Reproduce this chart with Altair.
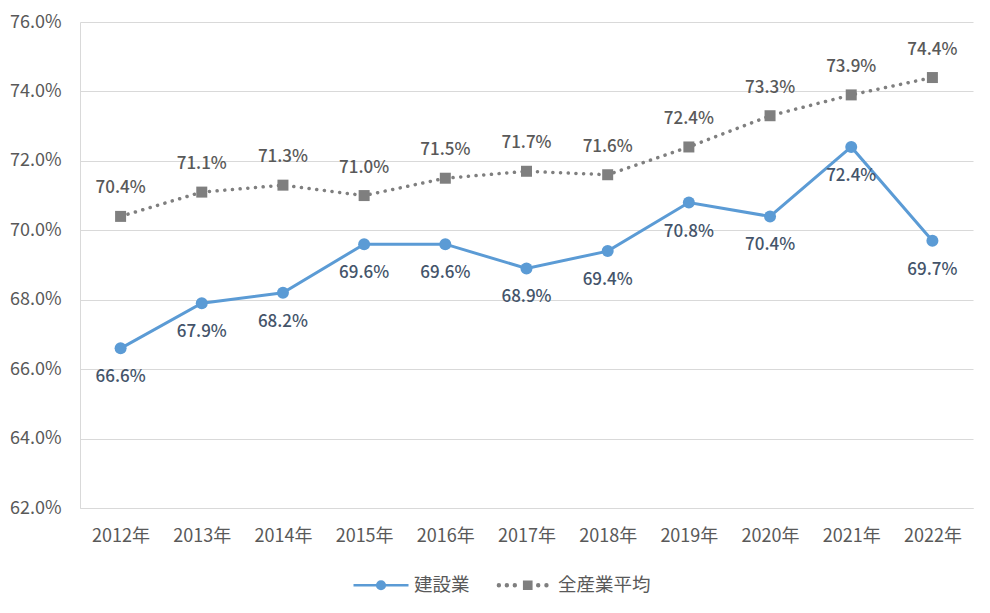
import altair as alt
import pandas as pd

years = ["2012年", "2013年", "2014年", "2015年", "2016年", "2017年",
         "2018年", "2019年", "2020年", "2021年", "2022年"]
construction = [66.6, 67.9, 68.2, 69.6, 69.6, 68.9, 69.4, 70.8, 70.4, 72.4, 69.7]
all_industry = [70.4, 71.1, 71.3, 71.0, 71.5, 71.7, 71.6, 72.4, 73.3, 73.9, 74.4]
series_names = ["建設業", "全産業平均"]
y_ticks = [62, 64, 66, 68, 70, 72, 74, 76]

BLUE = "#5B9BD5"
GRAY = "#7F7F7F"
FONT = "Noto Sans CJK JP"

df = pd.DataFrame({
    "year": years * 2,
    "value": construction + all_industry,
    "series": [series_names[0]] * len(years) + [series_names[1]] * len(years),
})
df["label"] = df["value"].map(lambda v: f"{v:.1f}%")

base = alt.Chart(df)
x_enc = alt.X("year:N", sort=years, title=None,
              scale=alt.Scale(type="point", padding=0.5),
              axis=alt.Axis(labelAngle=0, domain=True, domainColor="#d9d9d9",
                            ticks=False, grid=False, labelPadding=19,
                            labelFontSize=18, labelColor="#595959", labelFont=FONT))
y_enc = alt.Y("value:Q", title=None,
              scale=alt.Scale(domain=[62, 76], nice=False, zero=False),
              axis=alt.Axis(values=y_ticks, labelExpr="format(datum.value, '.1f') + '%'",
                            domain=True, domainColor="#d9d9d9", ticks=False,
                            grid=True, gridColor="#d9d9d9", labelPadding=19,
                            labelFontSize=18, labelColor="#595959", labelFont=FONT))

is_c = alt.datum.series == series_names[0]
is_a = alt.datum.series == series_names[1]

gray_line = base.transform_filter(is_a).mark_line(
    color=GRAY, strokeWidth=3.5, strokeDash=[0.1, 7.6], strokeCap="round"
).encode(x=x_enc, y=y_enc)
blue_line = base.transform_filter(is_c).mark_line(
    color=BLUE, strokeWidth=3
).encode(x=x_enc, y=y_enc)
gray_pts = base.transform_filter(is_a).mark_point(
    shape="square", filled=True, color=GRAY, size=121, opacity=1
).encode(x=x_enc, y=y_enc)
blue_pts = base.transform_filter(is_c).mark_point(
    shape="circle", filled=True, color=BLUE, size=144, opacity=1
).encode(x=x_enc, y=y_enc)
gray_txt = base.transform_filter(is_a).mark_text(
    dy=-28, font=FONT, fontSize=17, fontWeight=500, color="#595959", baseline="middle"
).encode(x=x_enc, y=y_enc, text="label:N")
blue_txt = base.transform_filter(is_c).mark_text(
    dy=29, font=FONT, fontSize=17, fontWeight=500, color="#44546A", baseline="middle"
).encode(x=x_enc, y=y_enc, text="label:N")

blue_sym = ("M-1,0H1M-0.14,0a0.14,0.14 0 1,0 0.28,0a0.14,0.14 0 1,0 -0.28,0")
def dot(cx, r=0.035):
    return f"M{cx - r:.3f},0a{r},{r} 0 1,0 {2*r},0a{r},{r} 0 1,0 {-2*r},0"
gray_sym = (dot(-0.95) + dot(-0.66) + dot(-0.37)
            + "M-0.03,-0.13H0.23V0.13H-0.03Z"
            + dot(0.48) + dot(0.78))

legend_layer = base.transform_filter("false").mark_point(filled=True, opacity=1).encode(
    x=x_enc, y=y_enc,
    fill=alt.Fill("series:N", scale=alt.Scale(domain=series_names, range=[BLUE, GRAY]),
                  legend=alt.Legend(title=None)),
    stroke=alt.Stroke("series:N", scale=alt.Scale(domain=series_names, range=[BLUE, GRAY]),
                      legend=alt.Legend(title=None)),
    shape=alt.Shape("series:N", scale=alt.Scale(domain=series_names, range=[blue_sym, gray_sym]),
                    legend=alt.Legend(title=None)),
)

chart = alt.layer(gray_line, blue_line, gray_pts, blue_pts, gray_txt, blue_txt, legend_layer).properties(
    width=893, height=486,
    autosize=alt.AutoSizeParams(type="none"),
    padding={"left": 72, "top": 14, "right": 9, "bottom": 95},
).configure_view(stroke=None).configure_legend(
    orient="none", legendX=272, legendY=534, direction="horizontal",
    symbolSize=3025, symbolStrokeWidth=2.5, labelFont=FONT, labelFontSize=18.5,
    labelColor="#595959", labelOffset=4, columnPadding=22, symbolOpacity=1,
)

chart.save("out.html", embed_options={"renderer": "svg", "actions": False})
